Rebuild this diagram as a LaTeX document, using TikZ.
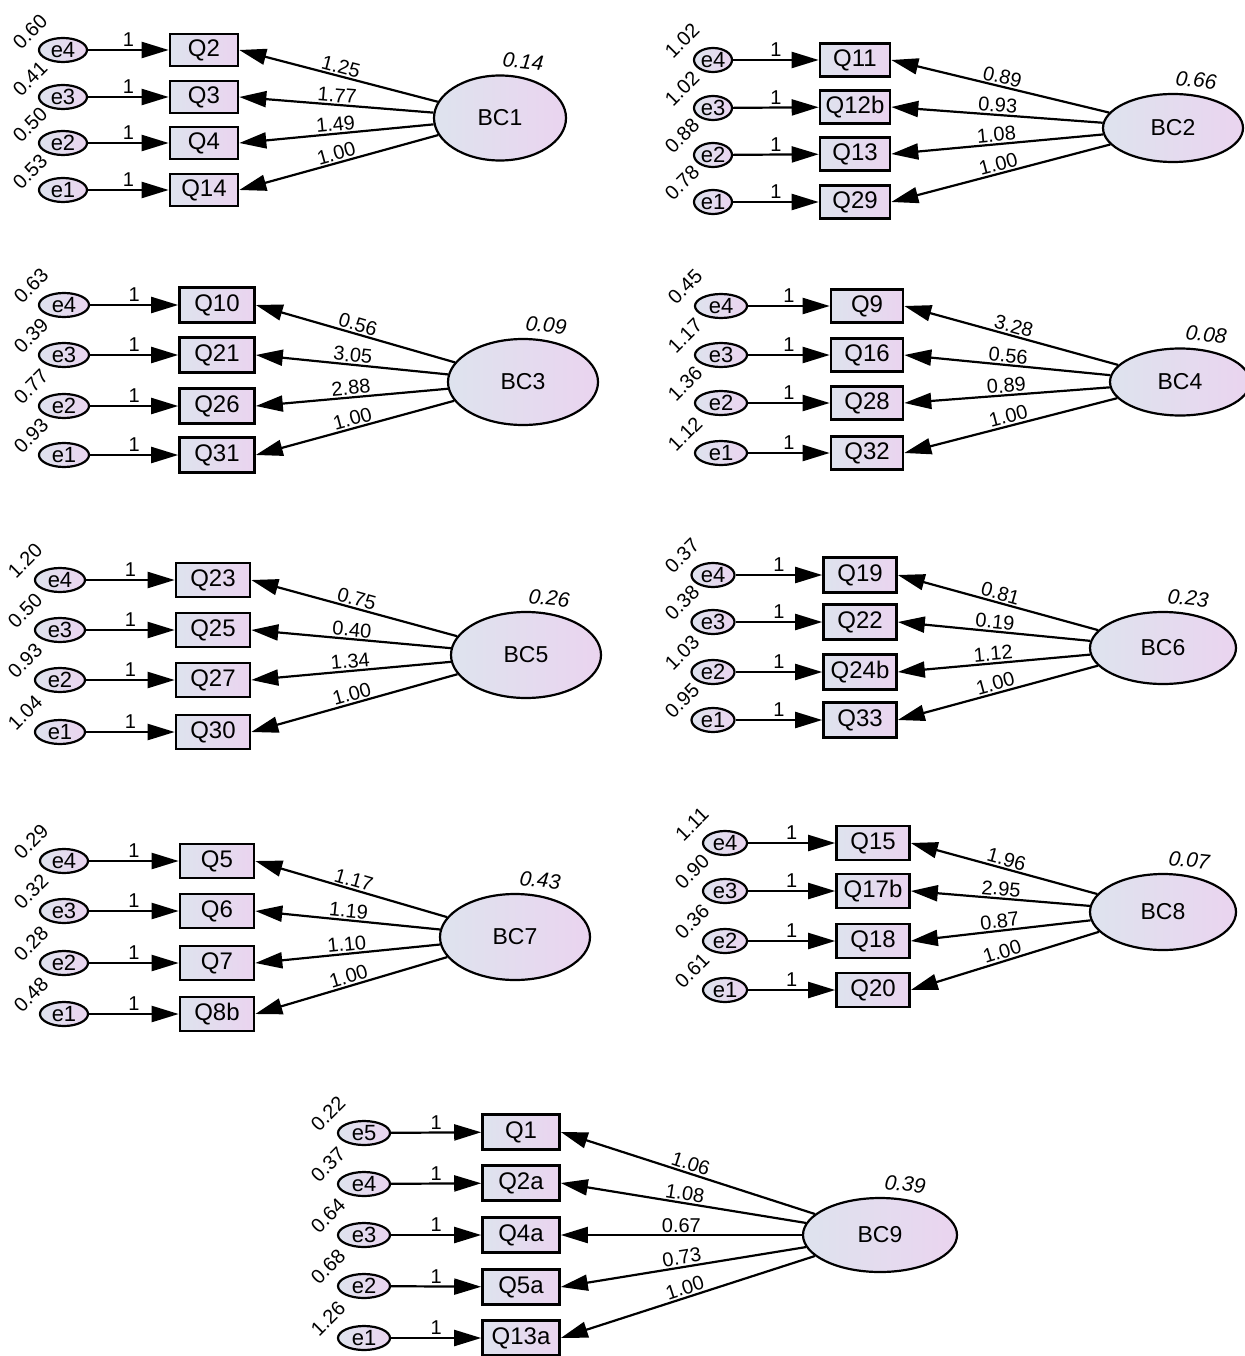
\documentclass[tikz,border=0pt]{standalone}
\usepackage{fontspec}
\setmainfont{Liberation Sans}
\usetikzlibrary{arrows.meta, shapes.geometric}
\definecolor{shadeblue}{HTML}{DEE3EE}
\definecolor{shadepink}{HTML}{EAD4EF}

\begin{document}
\begin{tikzpicture}[
    x=1pt, y=-1pt,
    >={Triangle[length=27pt, width=16pt]},
    font=\fontsize{24}{26}\selectfont,
    item/.style={draw, line width=2.6pt, left color=shadeblue, right color=shadepink,
        minimum width=74pt, minimum height=34pt, inner sep=0pt},
    err/.style={ellipse, draw, line width=2.2pt, left color=shadeblue, right color=shadepink,
        font=\fontsize{22}{24}\selectfont,
        minimum width=50pt, minimum height=24pt, inner xsep=0pt, inner ysep=-2pt},
    factor/.style={ellipse, draw, line width=2.2pt, left color=shadeblue, right color=shadepink,
        font=\fontsize{23}{25}\selectfont, minimum width=146pt, minimum height=76pt},
    fixed/.style={->, line width=2.2pt},
    load/.style={->, line width=2.2pt},
    one/.style={font=\fontsize{20}{20}\selectfont, above, inner sep=2pt},
    lval/.style={font=\fontsize{20}{20}\selectfont, sloped, above, pos=0.5, inner sep=1.5pt},
    evar/.style={font=\fontsize{20}{20}\selectfont, rotate=45},
    fvar/.style={font=\fontsize{21}{21}\selectfont\itshape, rotate=-6, anchor=south},
]
\useasboundingbox (0,0) rectangle (1244,1356);

% BC1 block
\node[err, minimum width=48pt] (p1e4) at (63,50) {e4};
\node[err, minimum width=48pt] (p1e3) at (63,97) {e3};
\node[err, minimum width=48pt] (p1e2) at (63,143) {e2};
\node[err, minimum width=48pt] (p1e1) at (63,190) {e1};
\node[item, minimum width=68pt, minimum height=32pt] (q2) at (204,50) {Q2};
\node[item, minimum width=68pt, minimum height=32pt] (q3) at (204,97) {Q3};
\node[item, minimum width=68pt, minimum height=32pt] (q4) at (204,143) {Q4};
\node[item, minimum width=68pt, minimum height=32pt] (q14) at (204,190) {Q14};
\node[factor, minimum width=132pt, minimum height=85pt] (bc1) at (500,118) {BC1};
\draw[fixed] (p1e4) -- node[one] {1} (q2);
\draw[fixed] (p1e3) -- node[one] {1} (q3);
\draw[fixed] (p1e2) -- node[one] {1} (q4);
\draw[fixed] (p1e1) -- node[one] {1} (q14);
\draw[load] (bc1) -- node[lval] {1.25} (q2.east);
\draw[load] (bc1) -- node[lval] {1.77} (q3.east);
\draw[load] (bc1) -- node[lval] {1.49} (q4.east);
\draw[load] (bc1) -- node[lval] {1.00} (q14.east);
\node[evar] at ([shift={(-33,-18)}]p1e4.center) {0.60};
\node[evar] at ([shift={(-33,-18)}]p1e3.center) {0.41};
\node[evar] at ([shift={(-33,-18)}]p1e2.center) {0.50};
\node[evar] at ([shift={(-33,-18)}]p1e1.center) {0.53};
\node[fvar] at ([shift={(22,-2)}]bc1.north) {0.14};

% BC2 block
\node[err, minimum width=38pt] (p2e4) at (713,60) {e4};
\node[err, minimum width=38pt] (p2e3) at (713,108) {e3};
\node[err, minimum width=38pt] (p2e2) at (713,155) {e2};
\node[err, minimum width=38pt] (p2e1) at (713,202) {e1};
\node[item, minimum width=70pt, minimum height=33pt] (q11) at (855,60) {Q11};
\node[item, minimum width=70pt, minimum height=33pt] (q12b) at (855,107) {Q12b};
\node[item, minimum width=70pt, minimum height=33pt] (q13) at (855,154) {Q13};
\node[item, minimum width=70pt, minimum height=33pt] (q29) at (855,202) {Q29};
\node[factor, minimum width=140pt, minimum height=68pt] (bc2) at (1173,128) {BC2};
\draw[fixed] (p2e4) -- node[one] {1} (q11);
\draw[fixed] (p2e3) -- node[one] {1} (q12b);
\draw[fixed] (p2e2) -- node[one] {1} (q13);
\draw[fixed] (p2e1) -- node[one] {1} (q29);
\draw[load] (bc2) -- node[lval] {0.89} (q11.east);
\draw[load] (bc2) -- node[lval] {0.93} (q12b.east);
\draw[load] (bc2) -- node[lval] {1.08} (q13.east);
\draw[load] (bc2) -- node[lval] {1.00} (q29.east);
\node[evar] at ([shift={(-31,-19)}]p2e4.center) {1.02};
\node[evar] at ([shift={(-31,-19)}]p2e3.center) {1.02};
\node[evar] at ([shift={(-31,-19)}]p2e2.center) {0.88};
\node[evar] at ([shift={(-31,-19)}]p2e1.center) {0.78};
\node[fvar] at ([shift={(22,-2)}]bc2.north) {0.66};

% BC3 block
\node[err] (p3e4) at (64,305) {e4};
\node[err] (p3e3) at (64,355) {e3};
\node[err] (p3e2) at (64,406) {e2};
\node[err] (p3e1) at (64,455) {e1};
\node[item, minimum width=75pt, minimum height=35pt] (q10) at (217,305) {Q10};
\node[item, minimum width=75pt, minimum height=35pt] (q21) at (217,355) {Q21};
\node[item, minimum width=75pt, minimum height=35pt] (q26) at (217,406) {Q26};
\node[item, minimum width=75pt, minimum height=35pt] (q31) at (217,455) {Q31};
\node[factor, minimum width=150pt, minimum height=86pt] (bc3) at (523,382) {BC3};
\draw[fixed] (p3e4) -- node[one] {1} (q10);
\draw[fixed] (p3e3) -- node[one] {1} (q21);
\draw[fixed] (p3e2) -- node[one] {1} (q26);
\draw[fixed] (p3e1) -- node[one] {1} (q31);
\draw[load] (bc3) -- node[lval] {0.56} (q10.east);
\draw[load] (bc3) -- node[lval] {3.05} (q21.east);
\draw[load] (bc3) -- node[lval] {2.88} (q26.east);
\draw[load] (bc3) -- node[lval] {1.00} (q31.east);
\node[evar] at ([shift={(-33,-19)}]p3e4.center) {0.63};
\node[evar] at ([shift={(-33,-19)}]p3e3.center) {0.39};
\node[evar] at ([shift={(-33,-19)}]p3e2.center) {0.77};
\node[evar] at ([shift={(-33,-19)}]p3e1.center) {0.93};
\node[fvar] at ([shift={(22,-2)}]bc3.north) {0.09};

% BC4 block
\node[err, minimum width=52pt] (p4e4) at (721,306) {e4};
\node[err, minimum width=52pt] (p4e3) at (721,355) {e3};
\node[err, minimum width=52pt] (p4e2) at (721,403) {e2};
\node[err, minimum width=52pt] (p4e1) at (721,453) {e1};
\node[item, minimum width=72pt, minimum height=33pt] (q9) at (867,306) {Q9};
\node[item, minimum width=72pt, minimum height=33pt] (q16) at (867,355) {Q16};
\node[item, minimum width=72pt, minimum height=33pt] (q28) at (867,403) {Q28};
\node[item, minimum width=72pt, minimum height=33pt] (q32) at (867,453) {Q32};
\node[factor, minimum width=140pt, minimum height=67pt] (bc4) at (1180,382) {BC4};
\draw[fixed] (p4e4) -- node[one] {1} (q9);
\draw[fixed] (p4e3) -- node[one] {1} (q16);
\draw[fixed] (p4e2) -- node[one] {1} (q28);
\draw[fixed] (p4e1) -- node[one] {1} (q32);
\draw[load] (bc4) -- node[lval] {3.28} (q9.east);
\draw[load] (bc4) -- node[lval] {0.56} (q16.east);
\draw[load] (bc4) -- node[lval] {0.89} (q28.east);
\draw[load] (bc4) -- node[lval] {1.00} (q32.east);
\node[evar] at ([shift={(-36,-19)}]p4e4.center) {0.45};
\node[evar] at ([shift={(-36,-19)}]p4e3.center) {1.17};
\node[evar] at ([shift={(-36,-19)}]p4e2.center) {1.36};
\node[evar] at ([shift={(-36,-19)}]p4e1.center) {1.12};
\node[fvar] at ([shift={(25,-2)}]bc4.north) {0.08};

% BC5 block
\node[err] (p5e4) at (60,580) {e4};
\node[err] (p5e3) at (60,630) {e3};
\node[err] (p5e2) at (60,680) {e2};
\node[err] (p5e1) at (60,732) {e1};
\node[item] (q23) at (213,580) {Q23};
\node[item] (q25) at (213,630) {Q25};
\node[item] (q27) at (213,680) {Q27};
\node[item] (q30) at (213,732) {Q30};
\node[factor, minimum width=150pt, minimum height=86pt] (bc5) at (526,655) {BC5};
\draw[fixed] (p5e4) -- node[one] {1} (q23);
\draw[fixed] (p5e3) -- node[one] {1} (q25);
\draw[fixed] (p5e2) -- node[one] {1} (q27);
\draw[fixed] (p5e1) -- node[one] {1} (q30);
\draw[load] (bc5) -- node[lval] {0.75} (q23.east);
\draw[load] (bc5) -- node[lval] {0.40} (q25.east);
\draw[load] (bc5) -- node[lval] {1.34} (q27.east);
\draw[load] (bc5) -- node[lval] {1.00} (q30.east);
\node[evar] at ([shift={(-35,-19)}]p5e4.center) {1.20};
\node[evar] at ([shift={(-35,-19)}]p5e3.center) {0.50};
\node[evar] at ([shift={(-35,-19)}]p5e2.center) {0.93};
\node[evar] at ([shift={(-35,-19)}]p5e1.center) {1.04};
\node[fvar] at ([shift={(22,-2)}]bc5.north) {0.26};

% BC6 block
\node[err, minimum width=43pt] (p6e4) at (713,575) {e4};
\node[err, minimum width=43pt] (p6e3) at (713,622) {e3};
\node[err, minimum width=43pt] (p6e2) at (713,672) {e2};
\node[err, minimum width=43pt] (p6e1) at (713,720) {e1};
\node[item, minimum width=73pt, minimum height=35pt] (q19) at (860,575) {Q19};
\node[item, minimum width=73pt, minimum height=35pt] (q22) at (860,622) {Q22};
\node[item, minimum width=73pt, minimum height=35pt] (q24b) at (860,672) {Q24b};
\node[item, minimum width=73pt, minimum height=35pt] (q33) at (860,720) {Q33};
\node[factor, minimum width=146pt, minimum height=72pt] (bc6) at (1163,648) {BC6};
\draw[fixed] (p6e4) -- node[one] {1} (q19);
\draw[fixed] (p6e3) -- node[one] {1} (q22);
\draw[fixed] (p6e2) -- node[one] {1} (q24b);
\draw[fixed] (p6e1) -- node[one] {1} (q33);
\draw[load] (bc6) -- node[lval] {0.81} (q19.east);
\draw[load] (bc6) -- node[lval] {0.19} (q22.east);
\draw[load] (bc6) -- node[lval] {1.12} (q24b.east);
\draw[load] (bc6) -- node[lval] {1.00} (q33.east);
\node[evar] at ([shift={(-31,-19)}]p6e4.center) {0.37};
\node[evar] at ([shift={(-31,-19)}]p6e3.center) {0.38};
\node[evar] at ([shift={(-31,-19)}]p6e2.center) {1.03};
\node[evar] at ([shift={(-31,-19)}]p6e1.center) {0.95};
\node[fvar] at ([shift={(24,-2)}]bc6.north) {0.23};

% BC7 block
\node[err, minimum width=48pt] (p7e4) at (64,861) {e4};
\node[err, minimum width=48pt] (p7e3) at (64,911) {e3};
\node[err, minimum width=48pt] (p7e2) at (64,963) {e2};
\node[err, minimum width=48pt] (p7e1) at (64,1014) {e1};
\node[item] (q5) at (217,861) {Q5};
\node[item] (q6) at (217,911) {Q6};
\node[item] (q7) at (217,963) {Q7};
\node[item] (q8b) at (217,1014) {Q8b};
\node[factor, minimum width=150pt, minimum height=86pt] (bc7) at (515,937) {BC7};
\draw[fixed] (p7e4) -- node[one] {1} (q5);
\draw[fixed] (p7e3) -- node[one] {1} (q6);
\draw[fixed] (p7e2) -- node[one] {1} (q7);
\draw[fixed] (p7e1) -- node[one] {1} (q8b);
\draw[load] (bc7) -- node[lval] {1.17} (q5.east);
\draw[load] (bc7) -- node[lval] {1.19} (q6.east);
\draw[load] (bc7) -- node[lval] {1.10} (q7.east);
\draw[load] (bc7) -- node[lval] {1.00} (q8b.east);
\node[evar] at ([shift={(-33,-19)}]p7e4.center) {0.29};
\node[evar] at ([shift={(-33,-19)}]p7e3.center) {0.32};
\node[evar] at ([shift={(-33,-19)}]p7e2.center) {0.28};
\node[evar] at ([shift={(-33,-19)}]p7e1.center) {0.48};
\node[fvar] at ([shift={(24,-2)}]bc7.north) {0.43};

% BC8 block
\node[err, minimum width=44pt] (p8e4) at (725,843) {e4};
\node[err, minimum width=44pt] (p8e3) at (725,891) {e3};
\node[err, minimum width=44pt] (p8e2) at (725,941) {e2};
\node[err, minimum width=44pt] (p8e1) at (725,990) {e1};
\node[item, minimum width=73pt] (q15) at (873,843) {Q15};
\node[item, minimum width=73pt] (q17b) at (873,891) {Q17b};
\node[item, minimum width=73pt] (q18) at (873,941) {Q18};
\node[item, minimum width=73pt] (q20) at (873,990) {Q20};
\node[factor, minimum width=146pt, minimum height=76pt] (bc8) at (1163,912) {BC8};
\draw[fixed] (p8e4) -- node[one] {1} (q15);
\draw[fixed] (p8e3) -- node[one] {1} (q17b);
\draw[fixed] (p8e2) -- node[one] {1} (q18);
\draw[fixed] (p8e1) -- node[one] {1} (q20);
\draw[load] (bc8) -- node[lval] {1.96} (q15.east);
\draw[load] (bc8) -- node[lval] {2.95} (q17b.east);
\draw[load] (bc8) -- node[lval] {0.87} (q18.east);
\draw[load] (bc8) -- node[lval] {1.00} (q20.east);
\node[evar] at ([shift={(-33,-19)}]p8e4.center) {1.11};
\node[evar] at ([shift={(-33,-19)}]p8e3.center) {0.90};
\node[evar] at ([shift={(-33,-19)}]p8e2.center) {0.36};
\node[evar] at ([shift={(-33,-19)}]p8e1.center) {0.61};
\node[fvar] at ([shift={(25,-2)}]bc8.north) {0.07};

% BC9 block
\node[err, minimum width=52pt] (p9e5) at (364,1133) {e5};
\node[err, minimum width=52pt] (p9e4) at (364,1184) {e4};
\node[err, minimum width=52pt] (p9e3) at (364,1235) {e3};
\node[err, minimum width=52pt] (p9e2) at (364,1286) {e2};
\node[err, minimum width=52pt] (p9e1) at (364,1338) {e1};
\node[item, minimum width=77pt, minimum height=35pt] (q1) at (521,1132) {Q1};
\node[item, minimum width=77pt, minimum height=35pt] (q2a) at (521,1183) {Q2a};
\node[item, minimum width=77pt, minimum height=35pt] (q4a) at (521,1235) {Q4a};
\node[item, minimum width=77pt, minimum height=35pt] (q5a) at (521,1287) {Q5a};
\node[item, minimum width=77pt, minimum height=35pt] (q13a) at (521,1338) {Q13a};
\node[factor, minimum width=154pt, minimum height=74pt] (bc9) at (880,1235) {BC9};
\draw[fixed] (p9e5) -- node[one] {1} (q1);
\draw[fixed] (p9e4) -- node[one] {1} (q2a);
\draw[fixed] (p9e3) -- node[one] {1} (q4a);
\draw[fixed] (p9e2) -- node[one] {1} (q5a);
\draw[fixed] (p9e1) -- node[one] {1} (q13a);
\draw[load] (bc9) -- node[lval] {1.06} (q1.east);
\draw[load] (bc9) -- node[lval] {1.08} (q2a.east);
\draw[load] (bc9) -- node[lval] {0.67} (q4a.east);
\draw[load] (bc9) -- node[lval] {0.73} (q5a.east);
\draw[load] (bc9) -- node[lval] {1.00} (q13a.east);
\node[evar] at ([shift={(-36,-19)}]p9e5.center) {0.22};
\node[evar] at ([shift={(-36,-19)}]p9e4.center) {0.37};
\node[evar] at ([shift={(-36,-19)}]p9e3.center) {0.64};
\node[evar] at ([shift={(-36,-19)}]p9e2.center) {0.68};
\node[evar] at ([shift={(-36,-19)}]p9e1.center) {1.26};
\node[fvar] at ([shift={(24,-2)}]bc9.north) {0.39};

\end{tikzpicture}
\end{document}
